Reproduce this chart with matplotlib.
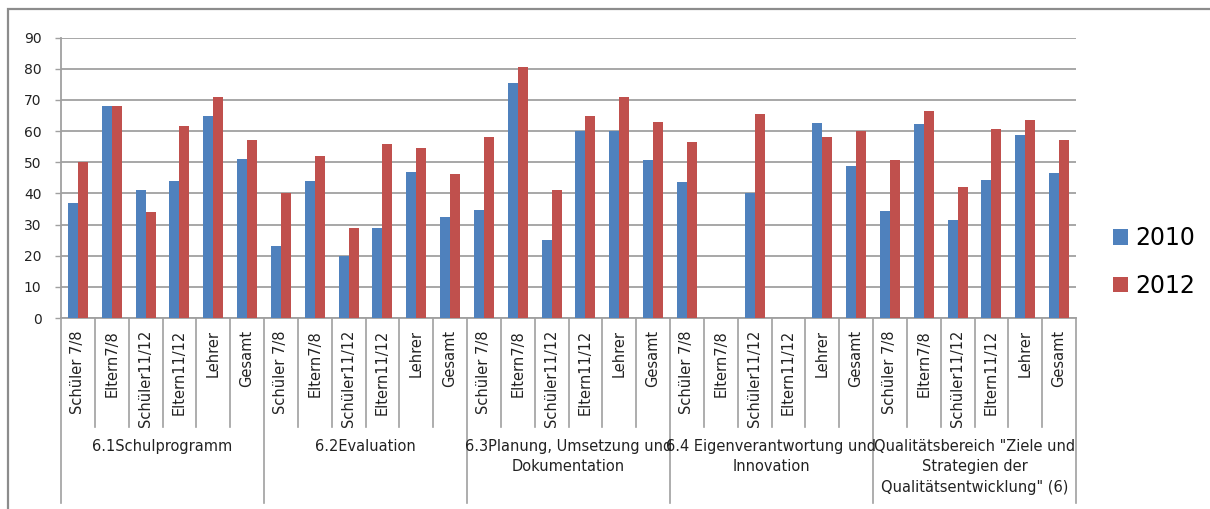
import matplotlib
matplotlib.use("Agg")
import matplotlib.pyplot as plt
import numpy as np
from matplotlib import transforms
from matplotlib.patches import Rectangle

plt.rcParams["font.family"] = ["Liberation Sans Narrow", "DejaVu Sans"]

respondents = ["Schüler 7/8", "Eltern7/8", "Schüler11/12", "Eltern11/12", "Lehrer", "Gesamt"]
areas = [
    "6.1Schulprogramm",
    "6.2Evaluation",
    "6.3Planung, Umsetzung und\nDokumentation",
    "6.4 Eigenverantwortung und\nInnovation",
    'Qualitätsbereich "Ziele und\nStrategien der\nQualitätsentwicklung" (6)',
]
series = ["2010", "2012"]
values_2010 = [37, 68, 41, 44, 65, 51,
               23, 44, 20, 29, 47, 32.3,
               34.7, 75.6, 25, 60, 60, 50.8,
               43.8, 0, 40, 0, 62.7, 48.8,
               34.4, 62.4, 31.5, 44.2, 58.7, 46.4]
values_2012 = [50, 68, 34, 61.5, 71, 57,
               40, 52, 29, 56, 54.5, 46.3,
               58, 80.5, 41, 65, 71, 63,
               56.6, 0, 65.6, 0, 58, 60,
               50.8, 66.5, 42.2, 60.8, 63.7, 57]

blue = "#4f81bd"
red = "#c0504d"
grey = "#a0a0a0"

W, H = 1210, 509
fig = plt.figure(figsize=(W / 100, H / 100), dpi=100)
ax = fig.add_axes([61 / W, (H - 318) / H, (1076 - 61) / W, (318 - 37.7) / H])

n = len(values_2010)
x = np.arange(n)
bw = 0.295
ax.bar(x - bw / 2, values_2010, bw, color=blue, label=series[0], zorder=3)
ax.bar(x + bw / 2, values_2012, bw, color=red, label=series[1], zorder=3)

ax.set_xlim(-0.5, n - 0.5)
ax.set_ylim(0, 90)
ax.set_yticks(range(0, 91, 10))
ax.set_xticks([])
ax.yaxis.grid(True, color=grey, lw=1.3, zorder=0)
ax.tick_params(axis="y", length=4, width=1, color=grey, pad=10, labelsize=10, labelcolor="#222222")
for side in ["top", "right"]:
    ax.spines[side].set_visible(False)
for side in ["left", "bottom"]:
    ax.spines[side].set_color(grey)
    ax.spines[side].set_linewidth(1.3)

# category / group separators below the axis
ax_h = 318 - 37.7
trans = transforms.blended_transform_factory(ax.transData, ax.transAxes)
for k in range(n + 1):
    depth = 185 if k % len(respondents) == 0 else 109
    ax.plot([k - 0.5, k - 0.5], [0, -depth / ax_h], color=grey, lw=1.2,
            transform=trans, clip_on=False)

lab_trans = transforms.offset_copy(trans, fig=fig, y=-12, units="dots")
for i in range(n):
    ax.text(i, 0, respondents[i % len(respondents)], rotation=90, ha="center", va="top",
            fontsize=10.5, color="#222222", transform=lab_trans)

grp_trans = transforms.offset_copy(trans, fig=fig, y=-121, units="dots")
for g, name in enumerate(areas):
    cx = g * len(respondents) + (len(respondents) - 1) / 2
    ax.text(cx, 0, name, ha="center", va="top", fontsize=10.5, color="#222222",
            linespacing=1.45, transform=grp_trans)

ax.legend(loc="center left", bbox_to_anchor=(1113 / W, 1 - 262 / H),
          bbox_transform=fig.transFigure, frameon=False, fontsize=17,
          handlelength=0.65, handleheight=0.65, handletextpad=0.3,
          labelspacing=1.0, borderpad=0, borderaxespad=0)

fig.patches.append(Rectangle((8 / W, -0.1), 1.2, 1.1 - 9 / H, transform=fig.transFigure,
                             fill=False, edgecolor="#8c8c8c", lw=1.6))

fig.savefig("out.png", dpi=100)
